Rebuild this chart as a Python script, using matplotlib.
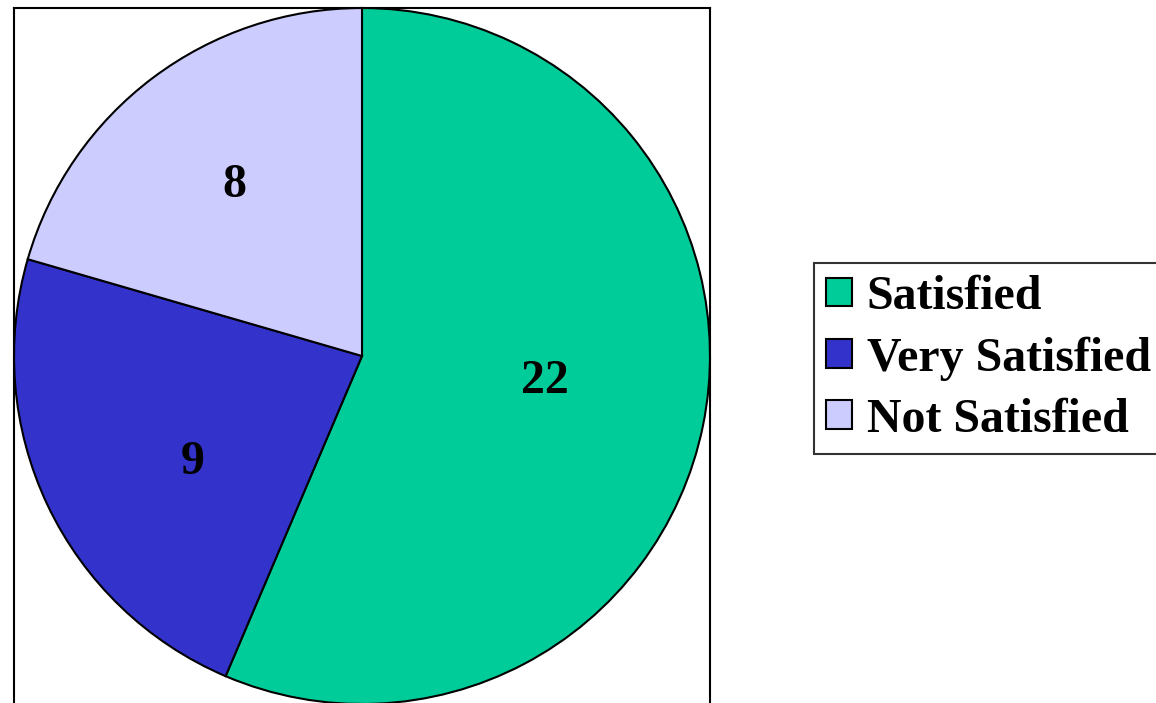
import matplotlib
matplotlib.use("Agg")
import matplotlib.pyplot as plt
import numpy as np

categories = ["Satisfied", "Very Satisfied", "Not Satisfied"]
values = [22, 9, 8]
colors = ["#00CC99", "#3333CC", "#CCCCFF"]

W, H = 1156, 703
fig = plt.figure(figsize=(W / 100, H / 100), dpi=100)
ax = fig.add_axes([14 / W, 1 - 704 / H, 696 / W, 696 / H])

wedges, _ = ax.pie(values, colors=colors, startangle=90, counterclock=False,
                   radius=1.0, wedgeprops=dict(edgecolor="black", linewidth=1.5))
ax.set_xlim(-1, 1)
ax.set_ylim(-1, 1)
ax.set_aspect("equal")
ax.set_frame_on(True)
ax.set_xticks([])
ax.set_yticks([])
for s in ax.spines.values():
    s.set_visible(True)
    s.set_linewidth(1.5)
    s.set_color("black")
ax.spines["bottom"].set_visible(False)

label_r = [0.53, 0.57, 0.62]
label_dang = [4.7, 5.9, -0.7]
for w, v, r, da in zip(wedges, values, label_r, label_dang):
    ang = np.deg2rad((w.theta1 + w.theta2) / 2 + da)
    ax.text(r * np.cos(ang), r * np.sin(ang) - 0.01, str(v), ha="center", va="center",
            fontsize=34.5, fontweight="bold", family="Liberation Serif")

leg = fig.legend(wedges, categories, loc="upper left",
                 bbox_to_anchor=(814 / W, 1 - 263 / H),
                 prop=dict(family="Liberation Serif", weight="bold", size=34.5),
                 frameon=True, fancybox=False, edgecolor="black",
                 handlelength=0.55, handleheight=0.55, handletextpad=0.3,
                 labelspacing=0.36, borderpad=0.25, borderaxespad=0)
leg.get_frame().set_linewidth(1.5)
for h in leg.legend_handles:
    h.set_linewidth(1.5)

fig.savefig("out.png", dpi=100)
